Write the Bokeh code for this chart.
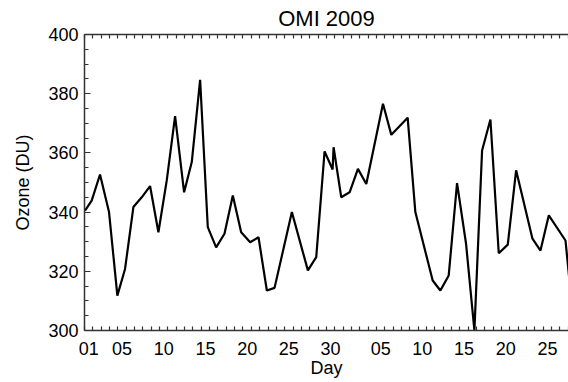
from bokeh.plotting import figure
from bokeh.models import LinearAxis, FixedTicker, Range1d
from bokeh.embed import file_html
from bokeh.resources import INLINE

# Total column ozone over the station, Dec 2009 - Jan 2010.
# Time is in days since 1 December 00 UT.
day = [0.06, 0.86, 1.86, 2.94, 3.94, 4.86, 5.86, 6.86, 7.86, 8.86,
       9.86, 10.86, 11.94, 12.86, 13.86, 14.78, 15.78, 16.78, 17.78, 18.78,
       19.86, 20.86, 21.86, 22.78, 24.86, 26.78, 27.78, 28.78, 29.74, 29.86,
       30.78, 31.78, 32.78, 33.78, 35.78, 36.78, 38.74, 39.66, 41.74, 42.66,
       43.66, 44.66, 45.74, 46.74, 47.66, 48.66, 49.66, 50.74, 51.74, 53.70,
       54.66, 55.66, 57.66, 58.66]
ozone = [340.5, 343.9, 352.7, 340.0, 311.8, 320.8, 341.7, 345.0, 348.8, 333.2,
         350.7, 372.4, 346.7, 356.9, 384.7, 334.9, 328.1, 332.7, 345.6, 333.2,
         329.8, 331.5, 313.5, 314.4, 340.0, 320.3, 324.8, 360.5, 354.4, 361.9,
         345.0, 346.7, 354.6, 349.5, 376.6, 366.1, 371.9, 340.0, 316.9, 313.5,
         318.6, 349.8, 329.3, 300.0, 360.8, 371.3, 326.1, 329.0, 354.1, 331.0,
         327.0, 338.9, 330.4, 302.0]

# Day-of-month labels along the time axis
dec_days = [1, 5, 10, 15, 20, 25, 30]
jan_days = [5, 10, 15, 20, 25]
dec_length = 31

y_ticks = [300, 320, 340, 360, 380, 400]

FONT = "Liberation Sans"

p = figure(width=568, height=382, output_backend="svg", toolbar_location=None,
           x_range=Range1d(0, 58.02), y_range=Range1d(300, 400),
           x_axis_type=None, y_axis_type=None,
           min_border_left=84, min_border_right=0,
           min_border_top=34, min_border_bottom=52)
p.outline_line_color = None
p.background_fill_color = "white"
p.border_fill_color = "white"

p.title.text = "OMI 2009"
p.title.align = "center"
p.title.text_font = FONT
p.title.text_font_size = "22px"
p.title.text_font_style = "normal"
p.title.text_color = "black"
p.title.standoff = 7

AX_COL = "#333333"

def style(ax):
    ax.axis_line_color = AX_COL
    ax.axis_line_width = 1.5
    ax.major_tick_line_color = AX_COL
    ax.minor_tick_line_color = AX_COL
    ax.major_tick_line_width = 1.2
    ax.minor_tick_line_width = 1.2
    ax.major_label_text_font = FONT
    ax.major_label_text_font_size = "18px"
    ax.major_label_text_color = "black"
    ax.axis_label_text_font = FONT
    ax.axis_label_text_font_size = "18px"
    ax.axis_label_text_font_style = "normal"
    ax.axis_label_text_color = "black"

# bottom axis: a tick at each day boundary, labels centred on the day
label_pos = [d - 0.5 for d in dec_days] + [dec_length + d - 0.5 for d in jan_days]
label_txt = ["%02d" % d for d in dec_days] + ["%02d" % d for d in jan_days]
day_ticks = list(range(0, 60))

xb = LinearAxis(ticker=FixedTicker(ticks=label_pos, minor_ticks=day_ticks),
                axis_label="Day")
style(xb)
xb.major_label_overrides = {pos: txt for pos, txt in zip(label_pos, label_txt)}
xb.major_tick_in = 0
xb.major_tick_out = 0
xb.minor_tick_in = 4
xb.minor_tick_out = 0
xb.major_label_standoff = 11
xb.axis_label_standoff = 0
p.add_layout(xb, "below")

xt = LinearAxis(ticker=FixedTicker(ticks=[], minor_ticks=day_ticks))
style(xt)
xt.major_label_text_font_size = "0px"
xt.major_tick_in = 0
xt.major_tick_out = 0
xt.minor_tick_in = 4
xt.minor_tick_out = 0
xt.major_label_standoff = 0
xt.axis_label_standoff = 0
p.add_layout(xt, "above")

yl = LinearAxis(ticker=FixedTicker(ticks=y_ticks, minor_ticks=list(range(300, 401, 5))),
                axis_label="Ozone (DU)")
style(yl)
yl.major_tick_in = 6
yl.major_tick_out = 0
yl.minor_tick_in = 4
yl.minor_tick_out = 0
yl.major_label_standoff = 6
yl.axis_label_standoff = 12
p.add_layout(yl, "left")

p.line(day, ozone, line_color="black", line_width=2.2)

open("out.html", "w").write(file_html(p, INLINE))
